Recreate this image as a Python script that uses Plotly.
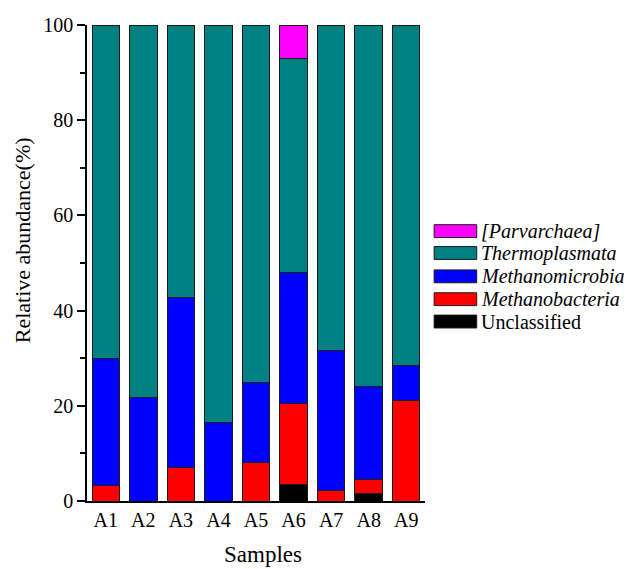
import plotly.graph_objects as go

# Archaeal class composition per sample (relative abundance, %)
samples = ["A1", "A2", "A3", "A4", "A5", "A6", "A7", "A8", "A9"]

unclassified = [0, 0, 0, 0, 0, 3.4, 0, 1.5, 0]
methanobacteria = [3.2, 0, 7.0, 0, 8.1, 17.0, 2.2, 3.1, 21.2]
methanomicrobia = [26.8, 21.7, 35.7, 16.5, 16.8, 27.7, 29.4, 19.5, 7.2]
thermoplasmata = [70.0, 78.3, 57.3, 83.5, 75.1, 44.8, 68.4, 75.9, 71.6]
parvarchaea = [0, 0, 0, 0, 0, 7.1, 0, 0, 0]

# stacking order bottom -> top
series = [
    ("Unclassified", unclassified, "#000000", False),
    ("Methanobacteria", methanobacteria, "#FF0000", True),
    ("Methanomicrobia", methanomicrobia, "#0000FF", True),
    ("Thermoplasmata", thermoplasmata, "#008080", True),
    ("[Parvarchaea]", parvarchaea, "#FF00FF", True),
]

FONT = "Liberation Serif"

fig = go.Figure()
for name, vals, color, italic in series:
    fig.add_trace(go.Bar(
        x=samples,
        y=[v if v > 0 else None for v in vals],
        name=name,
        marker=dict(color=color, line=dict(color="#1a1a1a", width=1)),
        width=0.73,
        showlegend=False,
    ))

# legend drawn as swatches + labels to the right of the plot (top entry = top of stack)
row_y = [0.567, 0.521, 0.472, 0.424, 0.377]
half_h = 0.0135
for (name, vals, color, italic), yc in zip(reversed(series), row_y):
    fig.add_shape(type="rect", xref="paper", yref="paper",
                  x0=1.027, x1=1.153, y0=yc - half_h, y1=yc + half_h,
                  fillcolor=color, line=dict(color="#1a1a1a", width=1))
    label = f"<i>{name}</i>" if italic else name
    fig.add_annotation(xref="paper", yref="paper", x=1.160, y=yc,
                       text=label, showarrow=False, xanchor="left", yanchor="middle",
                       font=dict(family=FONT, size=20, color="black"))

# axis titles
fig.add_annotation(xref="paper", yref="paper", x=-0.192, y=0.548,
                   text="Relative abundance(%)", textangle=-90, showarrow=False,
                   xanchor="center", yanchor="middle",
                   font=dict(family=FONT, size=22, color="black"))
fig.add_annotation(xref="paper", yref="paper", x=0.522, y=-0.113,
                   text="Samples", showarrow=False,
                   xanchor="center", yanchor="middle",
                   font=dict(family=FONT, size=23, color="black"))

fig.update_layout(
    width=630, height=569,
    margin=dict(l=87, r=205, t=25, b=68),
    barmode="stack",
    plot_bgcolor="white",
    paper_bgcolor="white",
    font=dict(family=FONT, size=20, color="black"),
)

fig.update_xaxes(
    range=[-0.5, 8.5],
    showline=True, linecolor="black", linewidth=1.5,
    ticks="", showgrid=False,
    tickfont=dict(family=FONT, size=20),
)
fig.update_yaxes(
    range=[0, 100],
    tickvals=[0, 20, 40, 60, 80, 100],
    showline=True, linecolor="black", linewidth=1.5,
    ticks="outside", ticklen=8, tickwidth=1.5, tickcolor="black",
    minor=dict(tickvals=[10, 30, 50, 70, 90], ticks="outside", ticklen=5,
               tickwidth=1.5, tickcolor="black"),
    showgrid=False, zeroline=False,
    tickfont=dict(family=FONT, size=20),
)

fig.write_html("out.html")
